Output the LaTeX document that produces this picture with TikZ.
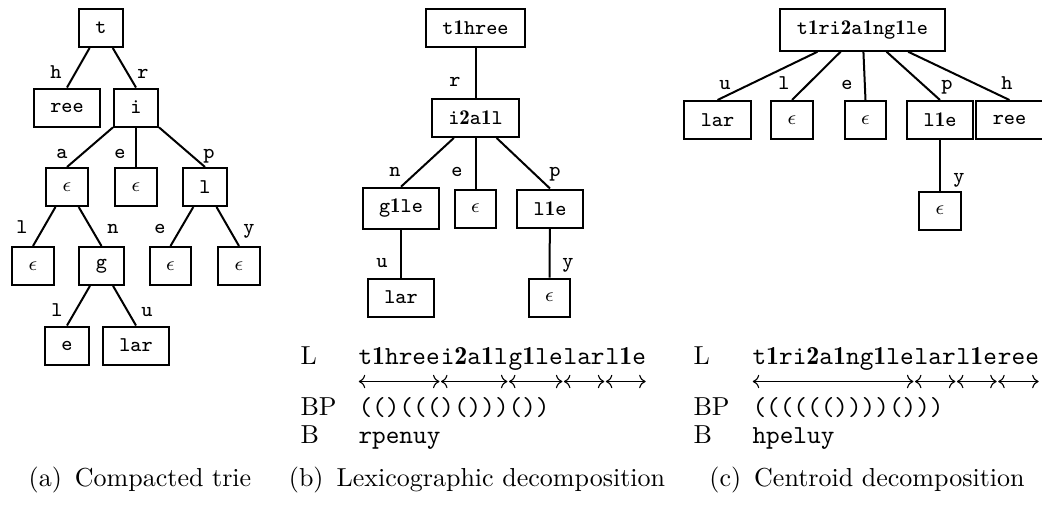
\documentclass[tikz,border=0pt]{standalone}
\usepackage{fontspec}
\usetikzlibrary{calc,arrows.meta}
% bold digit used inside the label strings
\newcommand{\bd}[1]{$\mathbf{#1}$}

\begin{document}
\begin{tikzpicture}[x=0.4pt,y=-0.4pt,
  treefont/.style={font=\fontsize{8.4}{10}\selectfont\ttfamily},
  textfont/.style={font=\fontsize{10.4}{12.5}\selectfont},
  box/.style={draw, line width=0.8pt, treefont, inner xsep=6.6pt, inner ysep=4.6pt, minimum height=15.2pt},
  conn/.style={line width=0.8pt},
  elab/.style={treefont, inner sep=0pt, anchor=base},
  seg/.style={font=\fontsize{10.4}{12.5}\selectfont\ttfamily, inner sep=0pt, anchor=base west},
  rowlab/.style={textfont, inner sep=0pt, anchor=base west},
  span/.style={{To[length=2.6pt,width=5.4pt]}-{To[length=2.6pt,width=5.4pt]}, line width=0.45pt,
    shorten <=0.3pt, shorten >=0.3pt},
  capt/.style={textfont, inner sep=0pt, anchor=base}
]
\useasboundingbox (0,0) rectangle (1042,508);

% ---------- (a) compacted trie ----------
\node[box] (a-t)   at (101,28)    {t};
\node[box] (a-ree) at (67,107.5)  {ree};
\node[box] (a-i)   at (136,107.5) {i};
\node[box] (a-e1)  at (67,187)    {$\epsilon$};
\node[box] (a-e2)  at (136,187)   {$\epsilon$};
\node[box] (a-l)   at (205,187)   {l};
\node[box] (a-e3)  at (33,266)    {$\epsilon$};
\node[box] (a-g)   at (101.5,266) {g};
\node[box] (a-e4)  at (170.5,266) {$\epsilon$};
\node[box] (a-e5)  at (239,266)   {$\epsilon$};
\node[box] (a-e)   at (67,345.5)  {e};
\node[box] (a-lar) at (136,345.5) {lar};

\draw[conn] (a-t) -- (a-ree.north);
\draw[conn] (a-t) -- (a-i.north);
\draw[conn] (a-i) -- (a-e1.north);
\draw[conn] (a-i) -- (a-e2.north);
\draw[conn] (a-i) -- (a-l.north);
\draw[conn] (a-e1) -- (a-e3.north);
\draw[conn] (a-e1) -- (a-g.north);
\draw[conn] (a-l) -- (a-e4.north);
\draw[conn] (a-l) -- (a-e5.north);
\draw[conn] (a-g) -- (a-e.north);
\draw[conn] (a-g) -- (a-lar.north);

\node[elab] (al-h)  at (56,78)   {h};
\node[elab] (al-r)  at (143,78)  {r};
\node[elab] (al-a)  at (62,158)  {a};
\node[elab] (al-e)  at (120,158) {e};
\node[elab] (al-p)  at (209,158) {p};
\node[elab] (al-l)  at (22,233)  {l};
\node[elab] (al-n)  at (113,233) {n};
\node[elab] (al-e2) at (160,233) {e};
\node[elab] (al-y)  at (249,233) {y};
\node[elab] (al-l2) at (57,316)  {l};
\node[elab] (al-u)  at (147,316) {u};

% ---------- (b) lexicographic decomposition ----------
\node[box] (b-root) at (475.5,28)  {t\bd1hree};
\node[box] (b-i)    at (475.5,118) {i\bd2a\bd1l};
\node[box] (b-g)    at (401,208.5) {g\bd1le};
\node[box] (b-e1)   at (475.5,208.5) {$\epsilon$};
\node[box] (b-l)    at (550,208.5) {l\bd1e};
\node[box] (b-lar)  at (401,297.5) {lar};
\node[box] (b-e2)   at (549.5,297.5) {$\epsilon$};

\draw[conn] (b-root) -- (b-i.north);
\draw[conn] (b-i) -- (b-g.north);
\draw[conn] (b-i) -- (b-e1.north);
\draw[conn] (b-i) -- (b-l.north);
\draw[conn] (b-g) -- (b-lar.north);
\draw[conn] (b-l) -- (b-e2.north);

\node[elab] (bl-r) at (455,86)  {r};
\node[elab] (bl-n) at (395,176) {n};
\node[elab] (bl-e) at (457,176) {e};
\node[elab] (bl-p) at (555,176) {p};
\node[elab] (bl-u) at (382,267) {u};
\node[elab] (bl-y) at (568,267) {y};

\node[rowlab] (b-Lh)  at (300,364) {L};
\node[seg] (b-s1) at (358,364) {t\bd1hree};
\node[seg] (b-s2) at (b-s1.base east) {i\bd2a\bd1l};
\node[seg] (b-s3) at (b-s2.base east) {g\bd1le};
\node[seg] (b-s4) at (b-s3.base east) {lar};
\node[seg] (b-s5) at (b-s4.base east) {l\bd1e};
\foreach \s in {b-s1,b-s2,b-s3,b-s4,b-s5}
  \draw[span] ([yshift=-7pt]\s.base west) -- ([yshift=-7pt]\s.base east);
\node[rowlab] (b-BPh) at (300,415) {BP};
\node[seg] (b-bp) at (358,415) {(()((()()))())};
\node[rowlab] (b-Bh)  at (300,443) {B};
\node[seg] (b-b) at (358,443) {rpenuy};

% ---------- (c) centroid decomposition ----------
\node[box] (c-root) at (862.5,30) {t\bd1ri\bd2a\bd1ng\bd1le};
\node[box] (c-lar)  at (717.5,120) {lar};
\node[box] (c-e1)   at (792,120)   {$\epsilon$};
\node[box] (c-e2)   at (865.5,120) {$\epsilon$};
\node[box] (c-l)    at (940,120)   {l\bd1e};
\node[box] (c-ree)  at (1009.5,120) {ree};
\node[box] (c-e3)   at (940,210.5) {$\epsilon$};

\draw[conn] (c-root) -- (c-lar.north);
\draw[conn] (c-root) -- (c-e1.north);
\draw[conn] (c-root) -- (c-e2.north);
\draw[conn] (c-root) -- (c-l.north);
\draw[conn] (c-root) -- (c-ree.north);
\draw[conn] (c-l) -- (c-e3.north);

\node[elab] (cl-u) at (725,89)  {u};
\node[elab] (cl-l) at (784,89)  {l};
\node[elab] (cl-e) at (847,89)  {e};
\node[elab] (cl-p) at (947,89)  {p};
\node[elab] (cl-h) at (1007,89) {h};
\node[elab] (cl-y) at (959,182) {y};

\node[rowlab] (c-Lh)  at (693,364) {L};
\node[seg] (c-s1) at (752,364) {t\bd1ri\bd2a\bd1ng\bd1le};
\node[seg] (c-s2) at (c-s1.base east) {lar};
\node[seg] (c-s3) at (c-s2.base east) {l\bd1e};
\node[seg] (c-s4) at (c-s3.base east) {ree};
\foreach \s in {c-s1,c-s2,c-s3,c-s4}
  \draw[span] ([yshift=-7pt]\s.base west) -- ([yshift=-7pt]\s.base east);
\node[rowlab] (c-BPh) at (693,415) {BP};
\node[seg] (c-bp) at (752,415) {(((((())))()))};
\node[rowlab] (c-Bh)  at (693,443) {B};
\node[seg] (c-b) at (752,443) {hpeluy};

% ---------- captions ----------
\node[capt] (cap-a) at (140,486) {(a)\enspace Compacted trie};
\node[capt] (cap-b) at (477,486) {(b)\enspace Lexicographic decomposition};
\node[capt] (cap-c) at (867,486) {(c)\enspace Centroid decomposition};
\end{tikzpicture}
\end{document}
